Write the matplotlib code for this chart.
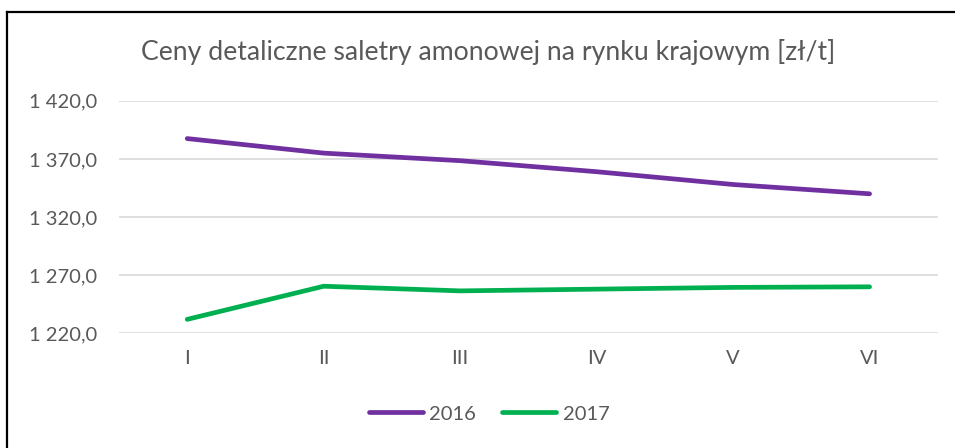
import matplotlib.pyplot as plt
from matplotlib.lines import Line2D

plt.rcParams['font.family'] = ['Lato', 'DejaVu Sans']

months = ["I", "II", "III", "IV", "V", "VI"]
ceny_2016 = [1387.5, 1375.0, 1368.5, 1359.0, 1348.0, 1340.0]
ceny_2017 = [1232.0, 1260.5, 1256.5, 1258.0, 1259.5, 1260.0]
yticks = [1220, 1270, 1320, 1370, 1420]

fig = plt.figure(figsize=(9.55, 4.48), dpi=100)
ax = fig.add_axes([0.1246, 0.256, 0.982 - 0.1246, 0.775 - 0.256])

x = list(range(len(months)))
ax.plot(x, ceny_2016, color="#7030A0", lw=3.4, solid_capstyle="round", label="2016")
ax.plot(x, ceny_2017, color="#00B050", lw=3.4, solid_capstyle="round", label="2017")

ax.set_xlim(-0.5, len(months) - 0.5)
ax.set_ylim(1220, 1420)
ax.set_yticks(yticks)
ax.set_yticklabels([f"{v // 1000} {v % 1000:03d},0" for v in yticks])
ax.set_xticks(x)
ax.set_xticklabels(months)
ax.tick_params(length=0, labelsize=14.5, colors="#595959")
ax.tick_params(axis="x", pad=12)
ax.tick_params(axis="y", pad=16)
ax.grid(axis="y", color="#D9D9D9", lw=1.2)
ax.set_axisbelow(True)
for s in ax.spines.values():
    s.set_visible(False)

fig.text(0.511, 0.883, "Ceny detaliczne saletry amonowej na rynku krajowym [zł/t]",
         ha="center", va="center", fontsize=19.2, color="#595959")

leg = fig.legend(loc="center", bbox_to_anchor=(0.512, 0.076), ncol=2, frameon=False,
                 fontsize=14.5, handlelength=2.7, handletextpad=0.3, columnspacing=1.3)
for t in leg.get_texts():
    t.set_color("#595959")

# border of the chart frame (only left and top are visible)
fig.add_artist(Line2D([6.5 / 955, 6.5 / 955], [0, 1 - 12.5 / 448], color="black", lw=1.6,
                      transform=fig.transFigure))
fig.add_artist(Line2D([6.5 / 955, 1], [1 - 12.5 / 448, 1 - 12.5 / 448], color="black", lw=1.6,
                      transform=fig.transFigure))

fig.savefig("out.png", dpi=100)
